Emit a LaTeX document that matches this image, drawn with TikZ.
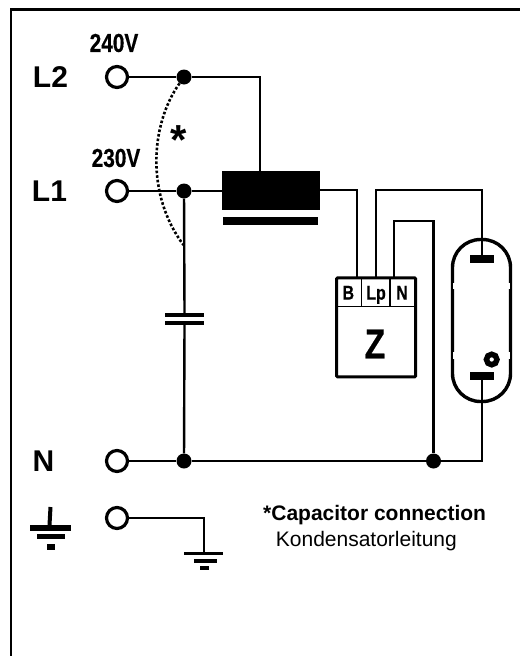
\documentclass[tikz,border=0pt]{standalone}
\usepackage{fontspec}
\setmainfont{Liberation Sans}
\newfontfamily\narrowfont[FakeStretch=0.8, BoldFeatures={FakeBold=0.5}]{Liberation Sans}
\begin{document}
\begin{tikzpicture}[x=1pt, y=-1pt]
  \tikzstyle{terminal}=[circle, line width=3.2pt, draw, fill=white, inner sep=0pt, minimum size=21pt]
  \tikzstyle{junction}=[circle, fill, inner sep=0pt, minimum size=15pt]
  \tikzstyle{wire}=[line width=2.4pt]
  \tikzstyle{plate}=[fill, inner sep=0pt, outer sep=0pt]
  \tikzstyle{mainlabel}=[font=\fontsize{30}{30}\selectfont\bfseries, inner sep=0pt]
  \tikzstyle{voltlabel}=[font=\narrowfont\fontsize{26}{26}\selectfont\bfseries, inner sep=0pt]
  \tikzstyle{pinlabel}=[font=\narrowfont\fontsize{20}{20}\selectfont\bfseries, inner sep=0pt, anchor=base]
  \useasboundingbox (0, 0) rectangle (520, 656);
  \draw[line width=2.2pt] (11, 656) -- (11, 9.5) -- (520, 9.5);

  \foreach \name/\y in {L2/77, L1/191, N/461, PE/518} {
    \node[terminal] (term-\name) at (117, \y) {};
  }
  \foreach \name/\x/\y in {L2/184/77, L1/184/191, N/184/461, Z/433.5/461} {
    \node[junction] (junc-\name) at (\x, \y) {};
  }
  \node[mainlabel] (label-L2) at (50.5, 77) {L2};
  \node[mainlabel] (label-L1) at (49.5, 191) {L1};
  \node[mainlabel] (label-N) at (43.5, 461) {N};
  \node[voltlabel] (label-240) at (114, 43) {240V};
  \node[voltlabel] (label-230) at (116, 158) {230V};
  \node[font=\fontsize{42}{42}\selectfont\bfseries, inner sep=0pt] (label-star) at (179, 140) {*};

  % choke
  \node[plate, minimum width=97.5pt, minimum height=39.5pt] (choke) at (270.75, 190.25) {};
  \node[plate, minimum width=95pt, minimum height=7.5pt] (chokebar) at (270.5, 220.75) {};

  % capacitor
  \node[plate, minimum width=39pt, minimum height=4pt] (capA) at (184.5, 315) {};
  \node[plate, minimum width=39pt, minimum height=4pt] (capB) at (184.5, 322.7) {};

  % ignitor
  \node[draw, line width=3pt, inner sep=0pt, minimum width=79pt, minimum height=99pt, rounded corners=1pt] (ignitor) at (376.2, 327.4) {};
  \coordinate (pin-B) at (357, 278);
  \coordinate (pin-Lp) at (376, 278);
  \coordinate (pin-N) at (394, 278);
  \draw[line width=1.2pt] (336.7, 306.7) -- (415.7, 306.7);
  \draw[line width=1.2pt] (361.7, 278) -- (361.7, 306.7);
  \draw[line width=1.2pt] (390, 278) -- (390, 306.7);
  \node[pinlabel] (label-B) at (348.3, 299.6) {B};
  \node[pinlabel] (label-Lp) at (376, 299.6) {Lp};
  \node[pinlabel] (label-pinN) at (402, 299.6) {N};
  \node[font=\narrowfont\fontsize{42}{42}\selectfont\bfseries, inner sep=0pt] (label-Z) at (375, 344) {Z};

  % lamp
  \node[draw, line width=3.4pt, inner sep=0pt, minimum width=58pt, minimum height=162pt, rounded corners=28pt] (lamp) at (481.5, 320.5) {};
  \fill[white] (453.2, 283) rectangle (457, 289);
  \fill[white] (453.2, 352) rectangle (457, 359);
  \fill[white] (506, 283) rectangle (509.5, 289);
  \fill[white] (506, 352) rectangle (509.5, 359);
  \node[plate, minimum width=24pt, minimum height=7.7pt] (electrodeA) at (481.7, 259.2) {};
  \node[plate, minimum width=24pt, minimum height=7.7pt] (electrodeB) at (481.7, 376.2) {};
  \node[circle, draw, line width=5.5pt, fill=white, inner sep=0pt, minimum size=10.5pt] (starter) at (491.7, 359.5) {};

  \coordinate (bendChokeL2) at (260, 77);
  \coordinate (bendB) at (357, 190);
  \coordinate (bendLpA) at (376, 190);
  \coordinate (bendLpB) at (481.7, 190);
  \coordinate (bendNA) at (394, 220.7);
  \coordinate (bendNB) at (433.5, 220.7);
  \coordinate (bendLamp) at (481.7, 461);
  \coordinate (bendPE) at (204, 518);
  \coordinate (earthIn) at (204, 552);

  \draw[wire] (term-L2) -- (junc-L2) -- (bendChokeL2) -- (choke.north -| bendChokeL2);
  \draw[wire] (term-L1) -- (junc-L1) -- (choke.west |- junc-L1);
  \draw[wire] (choke.east |- bendB) -- (bendB) -- (pin-B);
  \draw[wire] (pin-Lp) -- (bendLpA) -- (bendLpB) -- (electrodeA.north);
  \draw[wire] (pin-N) -- (bendNA) -- (bendNB) -- (junc-Z);
  \draw[wire] (term-N) -- (junc-N) -- (junc-Z) -- (bendLamp) -- (electrodeB.south);
  \draw[wire] (junc-L1) -- (capA.north);
  \draw[wire] (capB.south) -- (junc-N);
  \draw[wire] (term-PE) -- (bendPE) -- (earthIn);
  \draw[line width=2.6pt, dotted] (junc-L2) .. controls (150, 125) and (146, 195) .. (183.5, 245);

  % earth symbols
  \node[plate, minimum width=38.4pt, minimum height=3.6pt] (earthA) at (203.5, 553.5) {};
  \node[plate, minimum width=23pt, minimum height=4pt] (earthB) at (205.2, 561.3) {};
  \node[plate, minimum width=8.7pt, minimum height=4pt] (earthC) at (204.3, 568) {};
  \node[plate, minimum width=41pt, minimum height=6pt] (groundA) at (50.5, 528) {};
  \node[plate, minimum width=28.3pt, minimum height=5pt] (groundB) at (50.8, 536.8) {};
  \node[plate, minimum width=7.7pt, minimum height=6pt] (groundC) at (51.2, 547) {};
  \draw[line width=4pt] (50.5, 507) -- (49.5, 525);

  \node[anchor=base west, inner sep=0pt, font=\fontsize{21}{21}\selectfont\bfseries] (note-en) at (263, 520.7) {*Capacitor connection};
  \node[anchor=base west, inner sep=0pt, font=\fontsize{21}{21}\selectfont] (note-de) at (275.7, 546) {Kondensatorleitung};
\end{tikzpicture}
\end{document}
